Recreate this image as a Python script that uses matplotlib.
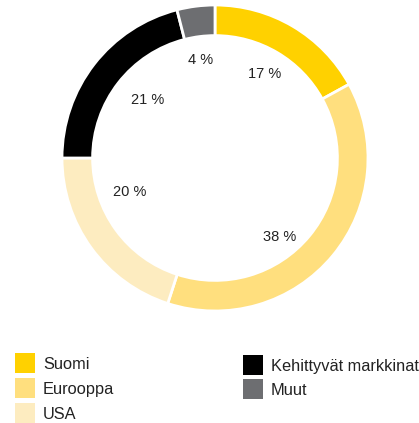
import numpy as np
import matplotlib.pyplot as plt
from matplotlib.patches import Rectangle

regions = ["Suomi", "Eurooppa", "USA", "Kehittyvät markkinat", "Muut"]
shares = [17, 38, 20, 21, 4]
colors = ["#FFD100", "#FFDF7E", "#FDECC0", "#000000", "#6D6E71"]

plt.rcParams['font.family'] = ['Liberation Sans', 'DejaVu Sans']

W, H = 419, 423
fig = plt.figure(figsize=(W / 100, H / 100), dpi=100)

cx, cy, r = 215, 158, 153
ax = fig.add_axes([(cx - r) / W, (H - cy - r) / H, 2 * r / W, 2 * r / H])
wedges, texts, autotexts = ax.pie(
    shares, colors=colors, startangle=90, counterclock=False, radius=1,
    wedgeprops=dict(width=0.2, edgecolor="white", linewidth=2),
    autopct=lambda p: f"{p:.0f} %", pctdistance=0.63,
    textprops=dict(fontsize=10.5, color="#222222"))

# nudge the percentage labels the way the original places them
ang_shift = [0, -11, -14, -3, 1]
dists = [0.64, 0.67, 0.60, 0.58, 0.65]
for w, t, da, d in zip(wedges, autotexts, ang_shift, dists):
    a = np.deg2rad((w.theta1 + w.theta2) / 2 + da)
    t.set_position((d * np.cos(a), d * np.sin(a)))

ax.set_xlim(-1, 1)
ax.set_ylim(-1, 1)
ax.set_aspect("equal")
ax.axis("off")

# legend, two columns drawn by hand
col_x = [15, 243]
rows_y = [[363, 388, 413], [365, 389]]
items = [(0, 0), (0, 1), (0, 2), (1, 0), (1, 1)]
for (c, rw), name, col in zip(items, regions, colors):
    x = col_x[c]
    y = rows_y[c][rw]
    fig.add_artist(Rectangle((x / W, (H - y - 10) / H), 20 / W, 20 / H,
                             transform=fig.transFigure, facecolor=col,
                             edgecolor="none"))
    fig.text((x + 28) / W, (H - y - 1) / H, name, fontsize=11.8,
             color="#222222", va="center", ha="left")

fig.savefig("out.png", dpi=100)
